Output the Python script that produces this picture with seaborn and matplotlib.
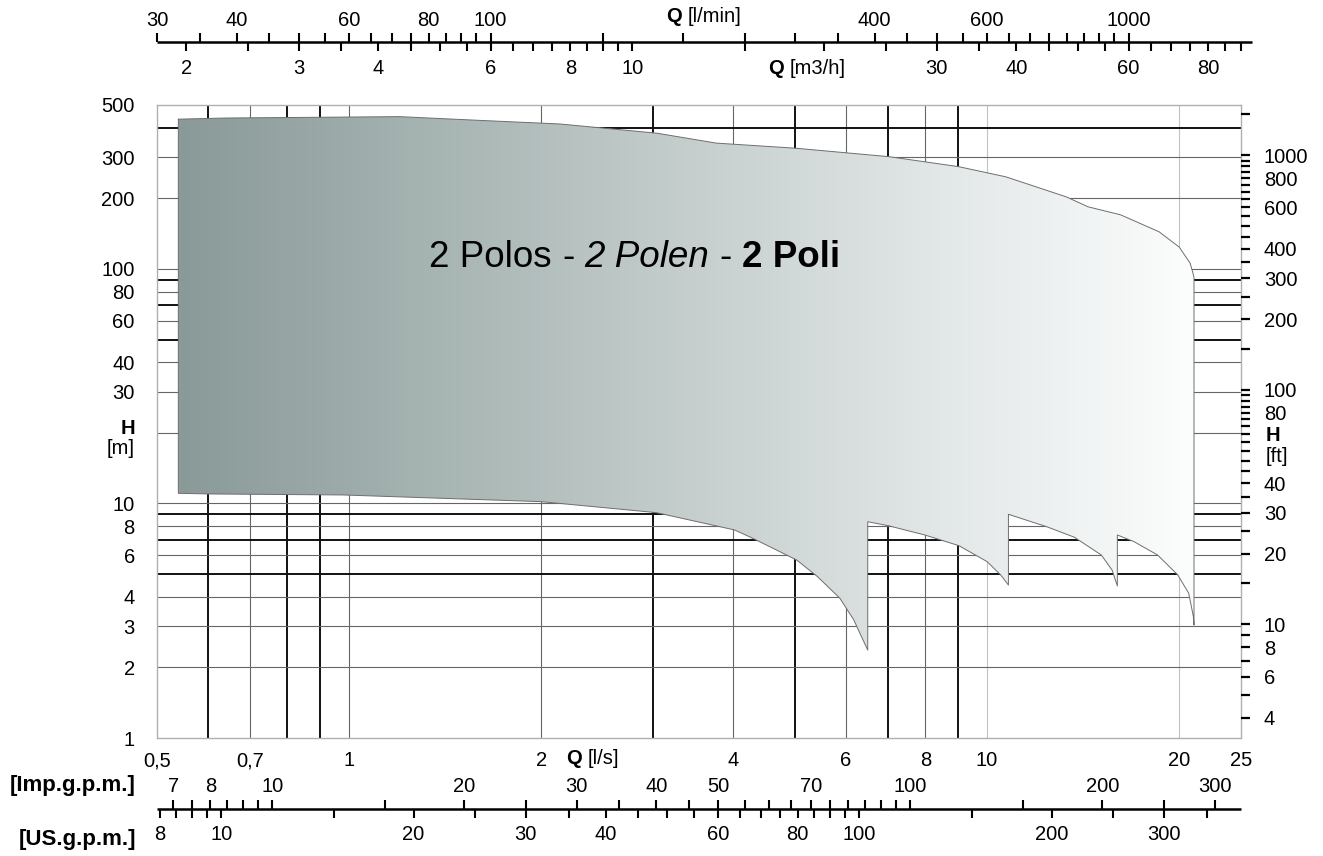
import numpy as np
import pandas as pd
import matplotlib
matplotlib.use("Agg")
import matplotlib.pyplot as plt
import matplotlib.transforms as mtransforms
from matplotlib.colors import LinearSegmentedColormap
from matplotlib.patches import Polygon
from matplotlib.ticker import FixedLocator, FixedFormatter, NullLocator, NullFormatter
import seaborn as sns

# ---------------------------------------------------------------
# Operating range of the 2-pole pump series: Q [l/s] against H [m]
# ---------------------------------------------------------------
# upper limit of the field
q_top = [0.54, 0.64, 1.2, 1.6, 2.14, 3.04, 3.76, 5.02, 7.02, 9.02, 10.7,
         13.3, 14.4, 16.2, 18.6, 20.0, 20.8, 21.0, 21.1]
h_top = [435, 440, 446, 430, 415, 379, 344, 327, 301, 273, 247,
         203, 184, 170, 144, 124, 106, 97, 92]

# lower limit, one branch per hydraulic size
q_low_a = [0.54, 0.60, 0.98, 2.0, 3.03, 4.02, 4.29, 5.03, 5.42, 5.88, 6.18, 6.50]
h_low_a = [11.05, 10.98, 10.87, 10.18, 9.14, 7.71, 7.11, 5.74, 4.88, 3.94, 3.19, 2.37]
q_low_b = [6.50, 7.0, 8.0, 9.03, 10.0, 10.5, 10.8]
h_low_b = [8.36, 8.04, 7.33, 6.61, 5.65, 4.96, 4.49]
q_low_c = [10.8, 12.4, 13.7, 15.1, 15.7, 16.0]
h_low_c = [8.99, 7.96, 7.18, 6.03, 5.2, 4.45]
q_low_d = [16.0, 17.0, 18.5, 19.9, 20.7, 21.05, 21.1]
h_low_d = [7.34, 6.87, 6.03, 4.96, 4.14, 3.3, 3.03]

# grid of the diagram
grid_q_light = [0.7, 1, 2, 4, 6, 8, 10, 20]
grid_q_heavy = [0.6, 0.8, 0.9, 3, 5, 7, 9]
grid_h_light = [2, 3, 4, 6, 8, 10, 20, 30, 40, 60, 80, 100, 200, 300]
grid_h_heavy = [5, 7, 9, 50, 70, 90, 400]

# main scales
q_ticks = [0.5, 0.7, 1, 2, 4, 6, 8, 10, 20, 25]
q_tick_labels = ["0,5", "0,7", "1", "2", "4", "6", "8", "10", "20", "25"]
h_ticks = [1, 2, 3, 4, 6, 8, 10, 30, 40, 60, 80, 100, 200, 300, 500]
h_tick_labels = ["1", "2", "3", "4", "6", "8", "10", "30", "40", "60", "80",
                 "100", "200", "300", "500"]
ft_major = [4, 6, 8, 10, 20, 30, 40, 80, 100, 200, 300, 400, 600, 800, 1000]
ft_minor = [5, 7, 9, 15, 25, 35, 45, 50, 55, 60, 65, 70, 75, 85, 90, 95,
            150, 250, 350, 450, 500, 550, 650, 700, 750, 850, 900, 950, 1500]

# auxiliary flow scales
lpm_ticks = list(range(30, 101, 5)) + list(range(150, 1001, 50))
lpm_labels = [30, 40, 60, 80, 100, 400, 600, 1000]
m3h_ticks = [2, 2.5, 3, 3.5, 4, 4.5, 5, 5.5, 6, 6.5, 7, 7.5, 8, 8.5, 9, 9.5, 10] + \
            list(range(15, 91, 5))
m3h_labels = [2, 3, 4, 6, 8, 10, 30, 40, 60, 80]
imp_ticks = [7, 7.5, 8, 8.5, 9, 9.5, 10] + list(range(15, 101, 5)) + [150, 200, 250, 300]
imp_labels = [7, 8, 10, 20, 30, 40, 50, 70, 100, 200, 300]
us_ticks = [8, 8.5, 9, 9.5, 10] + list(range(15, 101, 5)) + [150, 200, 250, 300, 350]
us_labels = [8, 10, 20, 30, 40, 60, 80, 100, 200, 300]

# unit conversions from l/s
LPM, M3H, IMP, USG = 60.0, 3.6, 13.198, 15.850
M_TO_FT = 3.2808

FS = 14.5  # size of the scale numbers

# ---------------------------------------------------------------
sns.set_theme(style="white")
plt.rcParams["font.family"] = ["Liberation Sans", "DejaVu Sans"]
plt.rcParams["text.color"] = "black"

W_PX, H_PX = 1323, 856
fig = plt.figure(figsize=(W_PX / 100, H_PX / 100), dpi=100)
fig.patch.set_facecolor("white")
ax = fig.add_axes([157 / W_PX, (H_PX - 738) / H_PX, 1084 / W_PX, 633 / H_PX])
ax.set_xscale("log")
ax.set_yscale("log")
ax.set_xlim(0.5, 25)
ax.set_ylim(1, 500)
ax.set_autoscale_on(False)
ax.set_facecolor("white")


def fy(py):
    return 1 - py / H_PX


# grid
for q in grid_q_light:
    col = "#c2c2c2" if q in (10, 20) else "#666666"
    ax.axvline(q, color=col, lw=0.8, zorder=1)
for q in grid_q_heavy:
    ax.axvline(q, color="#111111", lw=1.4, zorder=1)
for h in grid_h_light:
    ax.axhline(h, color="#666666", lw=0.8, zorder=1)
for h in grid_h_heavy:
    ax.axhline(h, color="#111111", lw=1.4, zorder=1)

# outline of the field
q_poly = (q_top + q_low_d[::-1] + q_low_c[::-1] + q_low_b[::-1] + q_low_a[::-1])
h_poly = (h_top + h_low_d[::-1] + h_low_c[::-1] + h_low_b[::-1] + h_low_a[::-1])
outline = pd.DataFrame({"Q": q_poly + [q_poly[0]], "H": h_poly + [h_poly[0]]})

field = Polygon(np.column_stack([q_poly, h_poly]), closed=True,
                transform=ax.transData)

# horizontal grey gradient clipped to the field
cmap = LinearSegmentedColormap.from_list(
    "field", ["#8a9a99", "#a6b4b2", "#c5cecd", "#e2e7e7", "#fcfdfd"])
x0 = ax.transAxes.inverted().transform(ax.transData.transform((min(q_poly), 1)))[0]
x1 = ax.transAxes.inverted().transform(ax.transData.transform((max(q_poly), 1)))[0]
grad = np.linspace(0, 1, 512).reshape(1, -1)
im = ax.imshow(grad, cmap=cmap, aspect="auto", extent=(x0, x1, 0, 1),
               transform=ax.transAxes, interpolation="bicubic", zorder=2)
im.set_clip_path(field)

sns.lineplot(data=outline, x="Q", y="H", sort=False, estimator=None,
             color="#6e6e6e", lw=0.7, ax=ax, zorder=3)
ax.set_xlabel("")
ax.set_ylabel("")
ax.set_xlim(0.5, 25)
ax.set_ylim(1, 500)

# title inside the field, mixed styles
TS = 26.5
sp = 0.278 * TS
t = ax.text(1.335, 94, "2 Polos", fontsize=TS, va="bottom", ha="left",
            color="black", zorder=5)
for s, kw in [("-", {}), ("2 Polen", {"style": "italic"}), ("-", {}),
              ("2 Poli", {"weight": "bold"})]:
    t = ax.annotate(s, xy=(1, 0), xycoords=t, xytext=(sp, 0),
                    textcoords="offset points", va="bottom", ha="left",
                    fontsize=TS, color="black", zorder=5, **kw)

# left / bottom scales
ax.xaxis.set_major_locator(FixedLocator(q_ticks))
ax.xaxis.set_major_formatter(FixedFormatter(q_tick_labels))
ax.xaxis.set_minor_locator(NullLocator())
ax.yaxis.set_major_locator(FixedLocator(h_ticks))
ax.yaxis.set_major_formatter(FixedFormatter(h_tick_labels))
ax.yaxis.set_minor_locator(NullLocator())
ax.tick_params(axis="x", length=0, pad=9.5, labelsize=FS, labelcolor="black")
ax.tick_params(axis="y", length=0, pad=16, labelsize=FS, labelcolor="black")
for sp_ in ax.spines.values():
    sp_.set_color("#b0b0b0")
    sp_.set_linewidth(1.0)

# right scale in feet
ax2 = ax.twinx()
ax2.set_yscale("log")
ax2.set_ylim(1 * M_TO_FT, 500 * M_TO_FT)
ax2.yaxis.set_major_locator(FixedLocator(ft_major))
ax2.yaxis.set_major_formatter(FixedFormatter([str(v) for v in ft_major]))
ax2.yaxis.set_minor_locator(FixedLocator(ft_minor))
ax2.yaxis.set_minor_formatter(NullFormatter())
ax2.tick_params(axis="y", which="both", direction="out", length=6.5, width=1.6,
                color="black", pad=10, labelsize=FS, labelcolor="black")
for sp_ in ax2.spines.values():
    sp_.set_visible(False)

# axis captions
fig.text(135 / W_PX, fy(428), "H", fontsize=FS, weight="bold", ha="right", va="center")
fig.text(135 / W_PX, fy(449), "[m]", fontsize=FS, ha="right", va="center")
fig.text(1266 / W_PX, fy(435), "H", fontsize=FS, weight="bold", ha="left", va="center")
fig.text(1266 / W_PX, fy(457), "[ft]", fontsize=FS, ha="left", va="center")

trans = mtransforms.blended_transform_factory(ax.transData, fig.transFigure)


def caption(q, py, unit, size=FS):
    a = ax.text(q, fy(py), "Q", transform=trans, fontsize=size, weight="bold",
                ha="left", va="center", clip_on=False)
    ax.annotate(unit, xy=(1, 0), xycoords=a, xytext=(0.278 * size, 0),
                textcoords="offset points", va="bottom", ha="left", fontsize=size)


caption(2.19, 758, "[l/s]")

# top double scale: l/min above, m3/h below
Y_TOP = 41.7
ax.plot([0.5, 26], [fy(Y_TOP)] * 2, transform=trans, clip_on=False,
        color="black", lw=1.8, solid_capstyle="butt")
ax.vlines([v / LPM for v in lpm_ticks], fy(Y_TOP), fy(Y_TOP - 8.5),
          transform=trans, clip_on=False, color="black", lw=1.5)
ax.vlines([v / M3H for v in m3h_ticks], fy(Y_TOP), fy(Y_TOP + 9),
          transform=trans, clip_on=False, color="black", lw=1.5)
for v in lpm_labels:
    ax.text(v / LPM, fy(20), str(v), transform=trans, fontsize=FS,
            ha="center", va="center", clip_on=False)
for v in m3h_labels:
    ax.text(v / M3H, fy(68), str(v), transform=trans, fontsize=FS,
            ha="center", va="center", clip_on=False)
caption(3.14, 16, "[l/min]")
caption(4.54, 68, "[m3/h]")

# bottom double scale: Imp. g.p.m. above, US g.p.m. below
Y_BOT = 808.7
ax.plot([0.5, 25], [fy(Y_BOT)] * 2, transform=trans, clip_on=False,
        color="black", lw=1.8, solid_capstyle="butt")
ax.vlines([v / IMP for v in imp_ticks], fy(Y_BOT), fy(Y_BOT - 8.5),
          transform=trans, clip_on=False, color="black", lw=1.5)
ax.vlines([v / USG for v in us_ticks], fy(Y_BOT), fy(Y_BOT + 9),
          transform=trans, clip_on=False, color="black", lw=1.5)
for v in imp_labels:
    ax.text(v / IMP, fy(787), str(v), transform=trans, fontsize=FS,
            ha="center", va="center", clip_on=False)
for v in us_labels:
    ax.text(v / USG, fy(834), str(v), transform=trans, fontsize=FS,
            ha="center", va="center", clip_on=False)
fig.text(136 / W_PX, fy(786), "[Imp.g.p.m.]", fontsize=16, weight="bold",
         ha="right", va="center")
fig.text(136 / W_PX, fy(839), "[US.g.p.m.]", fontsize=16, weight="bold",
         ha="right", va="center")

ax.set_xlim(0.5, 25)
ax.set_ylim(1, 500)
fig.savefig("out.png", dpi=100, facecolor="white")
